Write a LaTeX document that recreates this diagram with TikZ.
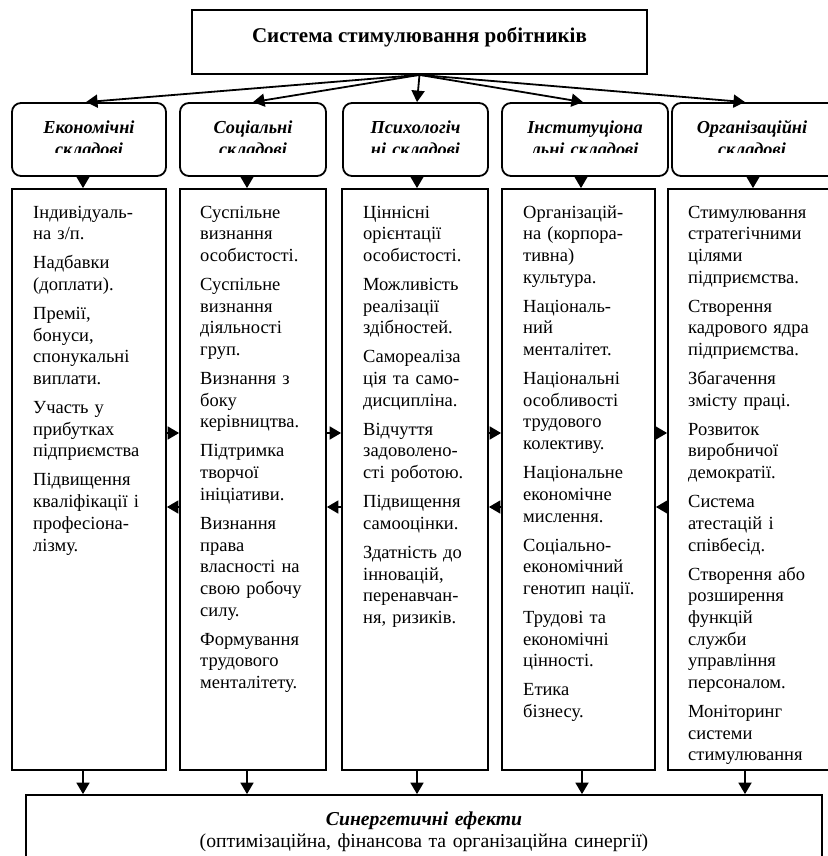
\documentclass[tikz,border=0pt]{standalone}
\usepackage{fontspec}
\setmainfont{Liberation Serif}
\usetikzlibrary{arrows.meta}

\begin{document}
\begin{tikzpicture}[
		x=1pt, y=-1pt,
		frame/.style={draw, line width=1.8pt, inner sep=0pt},
		headbox/.style={frame, minimum width=455pt, minimum height=64pt,
				text height=14pt, text depth=12pt, font=\fontsize{21}{25}\selectfont\bfseries},
		catbox/.style={frame, rounded corners=9pt, minimum height=73pt},
		cattext/.style={inner sep=0pt, text width=160pt, align=center, anchor=base,
				font=\fontsize{18.3}{21}\selectfont\bfseries\itshape},
		listbox/.style={frame, minimum height=581pt},
		listtext/.style={inner sep=0pt, text width=145pt, align=left, anchor=base west,
				font=\fontsize{18.5}{21.7}\selectfont},
		link/.style={line width=1.8pt, -{Triangle[length=11.5pt,width=13pt]}}
	]
	\useasboundingbox (0,0) rectangle (827,856);

	% head
	\node[headbox] (head) at (419.5,42) {Система стимулювання робітників};

	% categories
	\node[catbox, minimum width=154pt] (cat1) at (89,139.5) {};
	\node[catbox, minimum width=146pt] (cat2) at (253,139.5) {};
	\node[catbox, minimum width=145pt] (cat3) at (415.5,139.5) {};
	\node[catbox, minimum width=166pt] (cat4) at (585,139.5) {};
	\node[catbox, minimum width=168pt] (cat5) at (756,139.5) {};
	\begin{scope}
		\clip (0,103) rectangle (827,152);
		\node[cattext] (name1) at (89,134) {Економічні\\складові};
		\node[cattext] (name2) at (253,134) {Соціальні\\складові};
		\node[cattext] (name3) at (415.5,134) {Психологіч\\ні складові};
		\node[cattext] (name4) at (585,134) {Інституціона\\льні складові};
		\node[cattext] (name5) at (752,134) {Організаційні\\складові};
	\end{scope}

	% lists
	\node[listbox, minimum width=154pt] (list1) at (89,479.5) {};
	\node[listbox, minimum width=146pt] (list2) at (253,479.5) {};
	\node[listbox, minimum width=146pt] (list3) at (415,479.5) {};
	\node[listbox, minimum width=153pt] (list4) at (578.5,479.5) {};
	\node[listbox, minimum width=172pt] (list5) at (754,479.5) {};

	\node[listtext] (items1) at (33,218) {
		Індивідуаль-\\на з/п.\\[7.3pt]
		Надбавки\\(доплати).\\[7.3pt]
		Премії,\\бонуси,\\спонукальні\\виплати.\\[7.3pt]
		Участь у\\прибутках\\підприємства\\[7.3pt]
		Підвищення\\кваліфікації і\\професіона-\\лізму.};
	\node[listtext] (items2) at (200,218) {
		Суспільне\\визнання\\особистості.\\[7.3pt]
		Суспільне\\визнання\\діяльності\\груп.\\[7.3pt]
		Визнання з\\боку\\керівництва.\\[7.3pt]
		Підтримка\\творчої\\ініціативи.\\[7.3pt]
		Визнання\\права\\власності на\\свою робочу\\силу.\\[7.3pt]
		Формування\\трудового\\менталітету.};
	\node[listtext] (items3) at (363,218) {
		Ціннісні\\орієнтації\\особистості.\\[7.3pt]
		Можливість\\реалізації\\здібностей.\\[7.3pt]
		Самореаліза\\ція та само-\\дисципліна.\\[7.3pt]
		Відчуття\\задоволено-\\сті роботою.\\[7.3pt]
		Підвищення\\самооцінки.\\[7.3pt]
		Здатність до\\інновацій,\\перенавчан-\\ня, ризиків.};
	\node[listtext] (items4) at (523,218) {
		Організацій-\\на (корпора-\\тивна)\\культура.\\[7.3pt]
		Національ-\\ний\\менталітет.\\[7.3pt]
		Національні\\особливості\\трудового\\колективу.\\[7.3pt]
		Національне\\економічне\\мислення.\\[7.3pt]
		Соціально-\\економічний\\генотип нації.\\[7.3pt]
		Трудові та\\економічні\\цінності.\\[7.3pt]
		Етика\\бізнесу.};
	\node[listtext] (items5) at (688,218) {
		Стимулювання\\стратегічними\\цілями\\підприємства.\\[7.3pt]
		Створення\\кадрового ядра\\підприємства.\\[7.3pt]
		Збагачення\\змісту праці.\\[7.3pt]
		Розвиток\\виробничої\\демократії.\\[7.3pt]
		Система\\атестацій і\\співбесід.\\[7.3pt]
		Створення або\\розширення\\функцій\\служби\\управління\\персоналом.\\[7.3pt]
		Моніторинг\\системи\\стимулювання};

	% synergy
	\node[frame, minimum width=796pt, minimum height=90pt] (syn) at (424,840) {};
	\node[inner sep=0pt, text width=780pt, align=center, anchor=base,
		font=\fontsize{19.7}{22}\selectfont] (syntext) at (424,825)
		{\textbf{\textit{Синергетичні ефекти}}\\(оптимізаційна, фінансова та організаційна синергії)};

	% arrows from head
	\draw[link] (head.south) -- ([xshift=-3pt]cat1.north);
	\draw[link] (head.south) -- (cat2.north);
	\draw[link] (head.south) -- ([xshift=1.5pt]cat3.north);
	\draw[link] (head.south) -- ([xshift=-2pt]cat4.north);
	\draw[link] (head.south) -- ([xshift=-11pt]cat5.north);

	% arrows down
	\draw[link] ([xshift=-6pt]cat1.south) -- ([xshift=-6pt]cat1.south |- list1.north);
	\draw[link] ([xshift=-6pt]cat2.south) -- ([xshift=-6pt]cat2.south |- list2.north);
	\draw[link] ([xshift=1.5pt]cat3.south) -- ([xshift=1.5pt]cat3.south |- list3.north);
	\draw[link] ([xshift=-4pt]cat4.south) -- ([xshift=-4pt]cat4.south |- list4.north);
	\draw[link] ([xshift=-3pt]cat5.south) -- ([xshift=-3pt]cat5.south |- list5.north);

	\draw[link] ([xshift=-6pt]list1.south) -- ([xshift=-6pt]list1.south |- syn.north);
	\draw[link] ([xshift=-6pt]list2.south) -- ([xshift=-6pt]list2.south |- syn.north);
	\draw[link] ([xshift=2pt]list3.south) -- ([xshift=2pt]list3.south |- syn.north);
	\draw[link] ([xshift=3.5pt]list4.south) -- ([xshift=3.5pt]list4.south |- syn.north);
	\draw[link] ([xshift=-9pt]list5.south) -- ([xshift=-9pt]list5.south |- syn.north);

	% arrows between lists
	\draw[link] ([yshift=46.5pt]list1.east) -- ([yshift=46.5pt]list2.west);
	\draw[link] ([yshift=46.5pt]list2.east) -- ([yshift=46.5pt]list3.west);
	\draw[link] ([yshift=46.5pt]list3.east) -- ([yshift=46.5pt]list4.west);
	\draw[link] ([yshift=46.5pt]list4.east) -- ([yshift=46.5pt]list5.west);
	\draw[link] ([yshift=-27.5pt]list2.west) -- ([yshift=-27.5pt]list1.east);
	\draw[link] ([yshift=-27.5pt]list3.west) -- ([yshift=-27.5pt]list2.east);
	\draw[link] ([yshift=-27.5pt]list4.west) -- ([yshift=-27.5pt]list3.east);
	\draw[link] ([yshift=-27.5pt]list5.west) -- ([yshift=-27.5pt]list4.east);
\end{tikzpicture}
\end{document}
